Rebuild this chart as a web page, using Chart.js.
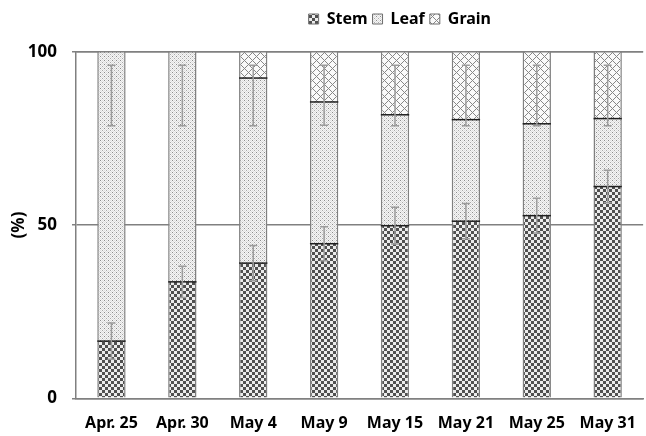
<!DOCTYPE html>
<html><head><meta charset="utf-8">
<script src="https://cdn.jsdelivr.net/npm/chart.js@4.4.1/dist/chart.umd.min.js"></script>
<style>
html,body{margin:0;padding:0;overflow:hidden;background:#fff;width:646px;height:436px}
#wrap{position:absolute;left:0;top:0;width:652px;height:436px}
</style>
</head><body><div id="wrap"><canvas id="c"></canvas></div>
<script>
const categories = ['Apr. 25','Apr. 30','May 4','May 9','May 15','May 21','May 25','May 31'];
const stem  = [16.5, 33.6, 39.0, 44.6, 49.8, 51.1, 52.7, 61.1];
const leaf  = [83.5, 66.4, 53.4, 40.9, 32.0, 29.3, 26.5, 19.6];
const grain = [0.0, 0.0, 7.6, 14.5, 18.2, 19.6, 20.8, 19.3];
const stemErr = [5.2, 4.5, 5.1, 4.9, 5.3, 5.1, 5.0, 4.7];
const upperErrLow  = [78.6, 78.6, 78.6, 78.8, 78.6, 78.6, 78.6, 78.6];
const upperErrHigh = [96.1, 96.1, 96.1, 96.1, 96.1, 96.1, 96.1, 96.1];
const yTicks = [0, 50, 100];
const seriesNames = ['Stem', 'Leaf', 'Grain'];

const canvas = document.getElementById('c');
const ctx0 = canvas.getContext('2d');

function makePattern(size, fn) {
  const c = document.createElement('canvas');
  c.width = c.height = size;
  const g = c.getContext('2d');
  const img = g.createImageData(size, size);
  for (let y = 0; y < size; y++) for (let x = 0; x < size; x++) {
    const v = fn(x, y); const k = (y * size + x) * 4;
    img.data[k] = img.data[k+1] = img.data[k+2] = v; img.data[k+3] = 255;
  }
  g.putImageData(img, 0, 0);
  return ctx0.createPattern(c, 'repeat');
}
const stemPat = makePattern(6, (x, y) => ((Math.floor(x/3) + Math.floor(y/3)) % 2 === 0) ? 80 : 236);
const leafPat = makePattern(4, (x, y) => (x===0&&y===0) ? 140 : (x===2&&y===2) ? 170 : ((x+y)%2===0 ? 222 : 246));
const grainPat = makePattern(8, (x, y) => ((x+y)%8===0 || (x-y+8)%8===0) ? 135 : 250);

const FONT = 'Noto Sans';

function drawErr(ctx, cx, yLo, yHi) {
  const cap = 4;
  ctx.beginPath();
  ctx.moveTo(cx, yLo); ctx.lineTo(cx, yHi);
  ctx.moveTo(cx - cap, yLo); ctx.lineTo(cx + cap, yLo);
  ctx.moveTo(cx - cap, yHi); ctx.lineTo(cx + cap, yHi);
  ctx.stroke();
}

const overlay = {
  id: 'overlay',
  afterLayout(chart) {
    const lg = chart.legend;
    if (!lg) return;
    const w = lg.right - lg.left, h = lg.bottom - lg.top;
    lg.right = 496; lg.left = lg.right - w;
    lg.top = 6; lg.bottom = lg.top + h;
  },
  afterDatasetsDraw(chart) {
    const {ctx, scales: {x, y}, chartArea} = chart;
    ctx.save();
    ctx.strokeStyle = '#808080'; ctx.lineWidth = 1.5;
    const y100 = y.getPixelForValue(100);
    ctx.beginPath(); ctx.moveTo(chartArea.left, y100); ctx.lineTo(chartArea.right, y100); ctx.stroke();
    ctx.strokeStyle = '#1e1e1e'; ctx.lineWidth = 1.5;
    [0, 1].forEach(di => {
      chart.getDatasetMeta(di).data.forEach((el, i) => {
        if (di === 1 && grain[i] === 0) return;
        const p = el.getProps(['x', 'y', 'width'], true);
        ctx.beginPath(); ctx.moveTo(p.x - p.width/2, p.y); ctx.lineTo(p.x + p.width/2, p.y); ctx.stroke();
      });
    });
    ctx.strokeStyle = '#9c9c9c'; ctx.lineWidth = 1.5;
    categories.forEach((c, i) => {
      const cx = x.getPixelForValue(i);
      drawErr(ctx, cx, y.getPixelForValue(stem[i] - stemErr[i]), y.getPixelForValue(stem[i] + stemErr[i]));
      drawErr(ctx, cx, y.getPixelForValue(upperErrLow[i]), y.getPixelForValue(upperErrHigh[i]));
    });
    ctx.restore();
  }
};

const common = {
  barPercentage: 0.4, categoryPercentage: 1.0,
  borderColor: '#808080', borderWidth: {left: 1.5, right: 1.5, top: 0, bottom: 0}, borderSkipped: false
};

new Chart(ctx0, {
  type: 'bar',
  data: {
    labels: categories,
    datasets: [
      Object.assign({label: seriesNames[0], data: stem, backgroundColor: stemPat}, common),
      Object.assign({label: seriesNames[1], data: leaf, backgroundColor: leafPat}, common),
      Object.assign({label: seriesNames[2], data: grain, backgroundColor: grainPat}, common)
    ]
  },
  options: {
    responsive: true, maintainAspectRatio: false, animation: false,
    layout: {padding: {top: 20.7, right: 3, bottom: 0, left: 0}},
    plugins: {
      tooltip: {enabled: false},
      legend: {
        position: 'top', align: 'end',
        labels: {
          boxWidth: 10, boxHeight: 10, padding: 5, color: '#000',
          font: {family: FONT, size: 16, weight: 'bold'},
          generateLabels(chart) {
            return chart.data.datasets.map((ds, i) => ({
              text: ds.label, fillStyle: ds.backgroundColor, strokeStyle: '#6e6e6e',
              lineWidth: 1, hidden: false, datasetIndex: i, fontColor: '#000'
            }));
          }
        }
      }
    },
    scales: {
      x: {
        stacked: true,
        grid: {display: false, drawTicks: false},
        border: {display: true, color: '#808080', width: 1.5},
        ticks: {color: '#000', padding: 16, font: {family: FONT, size: 16, weight: 'bold'}, maxRotation: 0},
        afterFit(s) { s.height = 37.7; }
      },
      y: {
        stacked: true, min: 0, max: 100,
        afterBuildTicks(s) { s.ticks = yTicks.map(v => ({value: v})); },
        grid: {color: '#808080', lineWidth: 1.5, tickLength: 4, tickColor: '#808080'},
        border: {display: true, color: '#808080', width: 1.5},
        ticks: {color: '#000', padding: 15, font: {family: FONT, size: 17, weight: 'bold'}},
        title: {display: true, text: '(%)', color: '#000', padding: {top: 9, bottom: 0}, font: {family: FONT, size: 17, weight: 'bold'}},
        afterFit(s) { s.width = 76; }
      }
    }
  },
  plugins: [overlay]
});
</script>
</body></html>
